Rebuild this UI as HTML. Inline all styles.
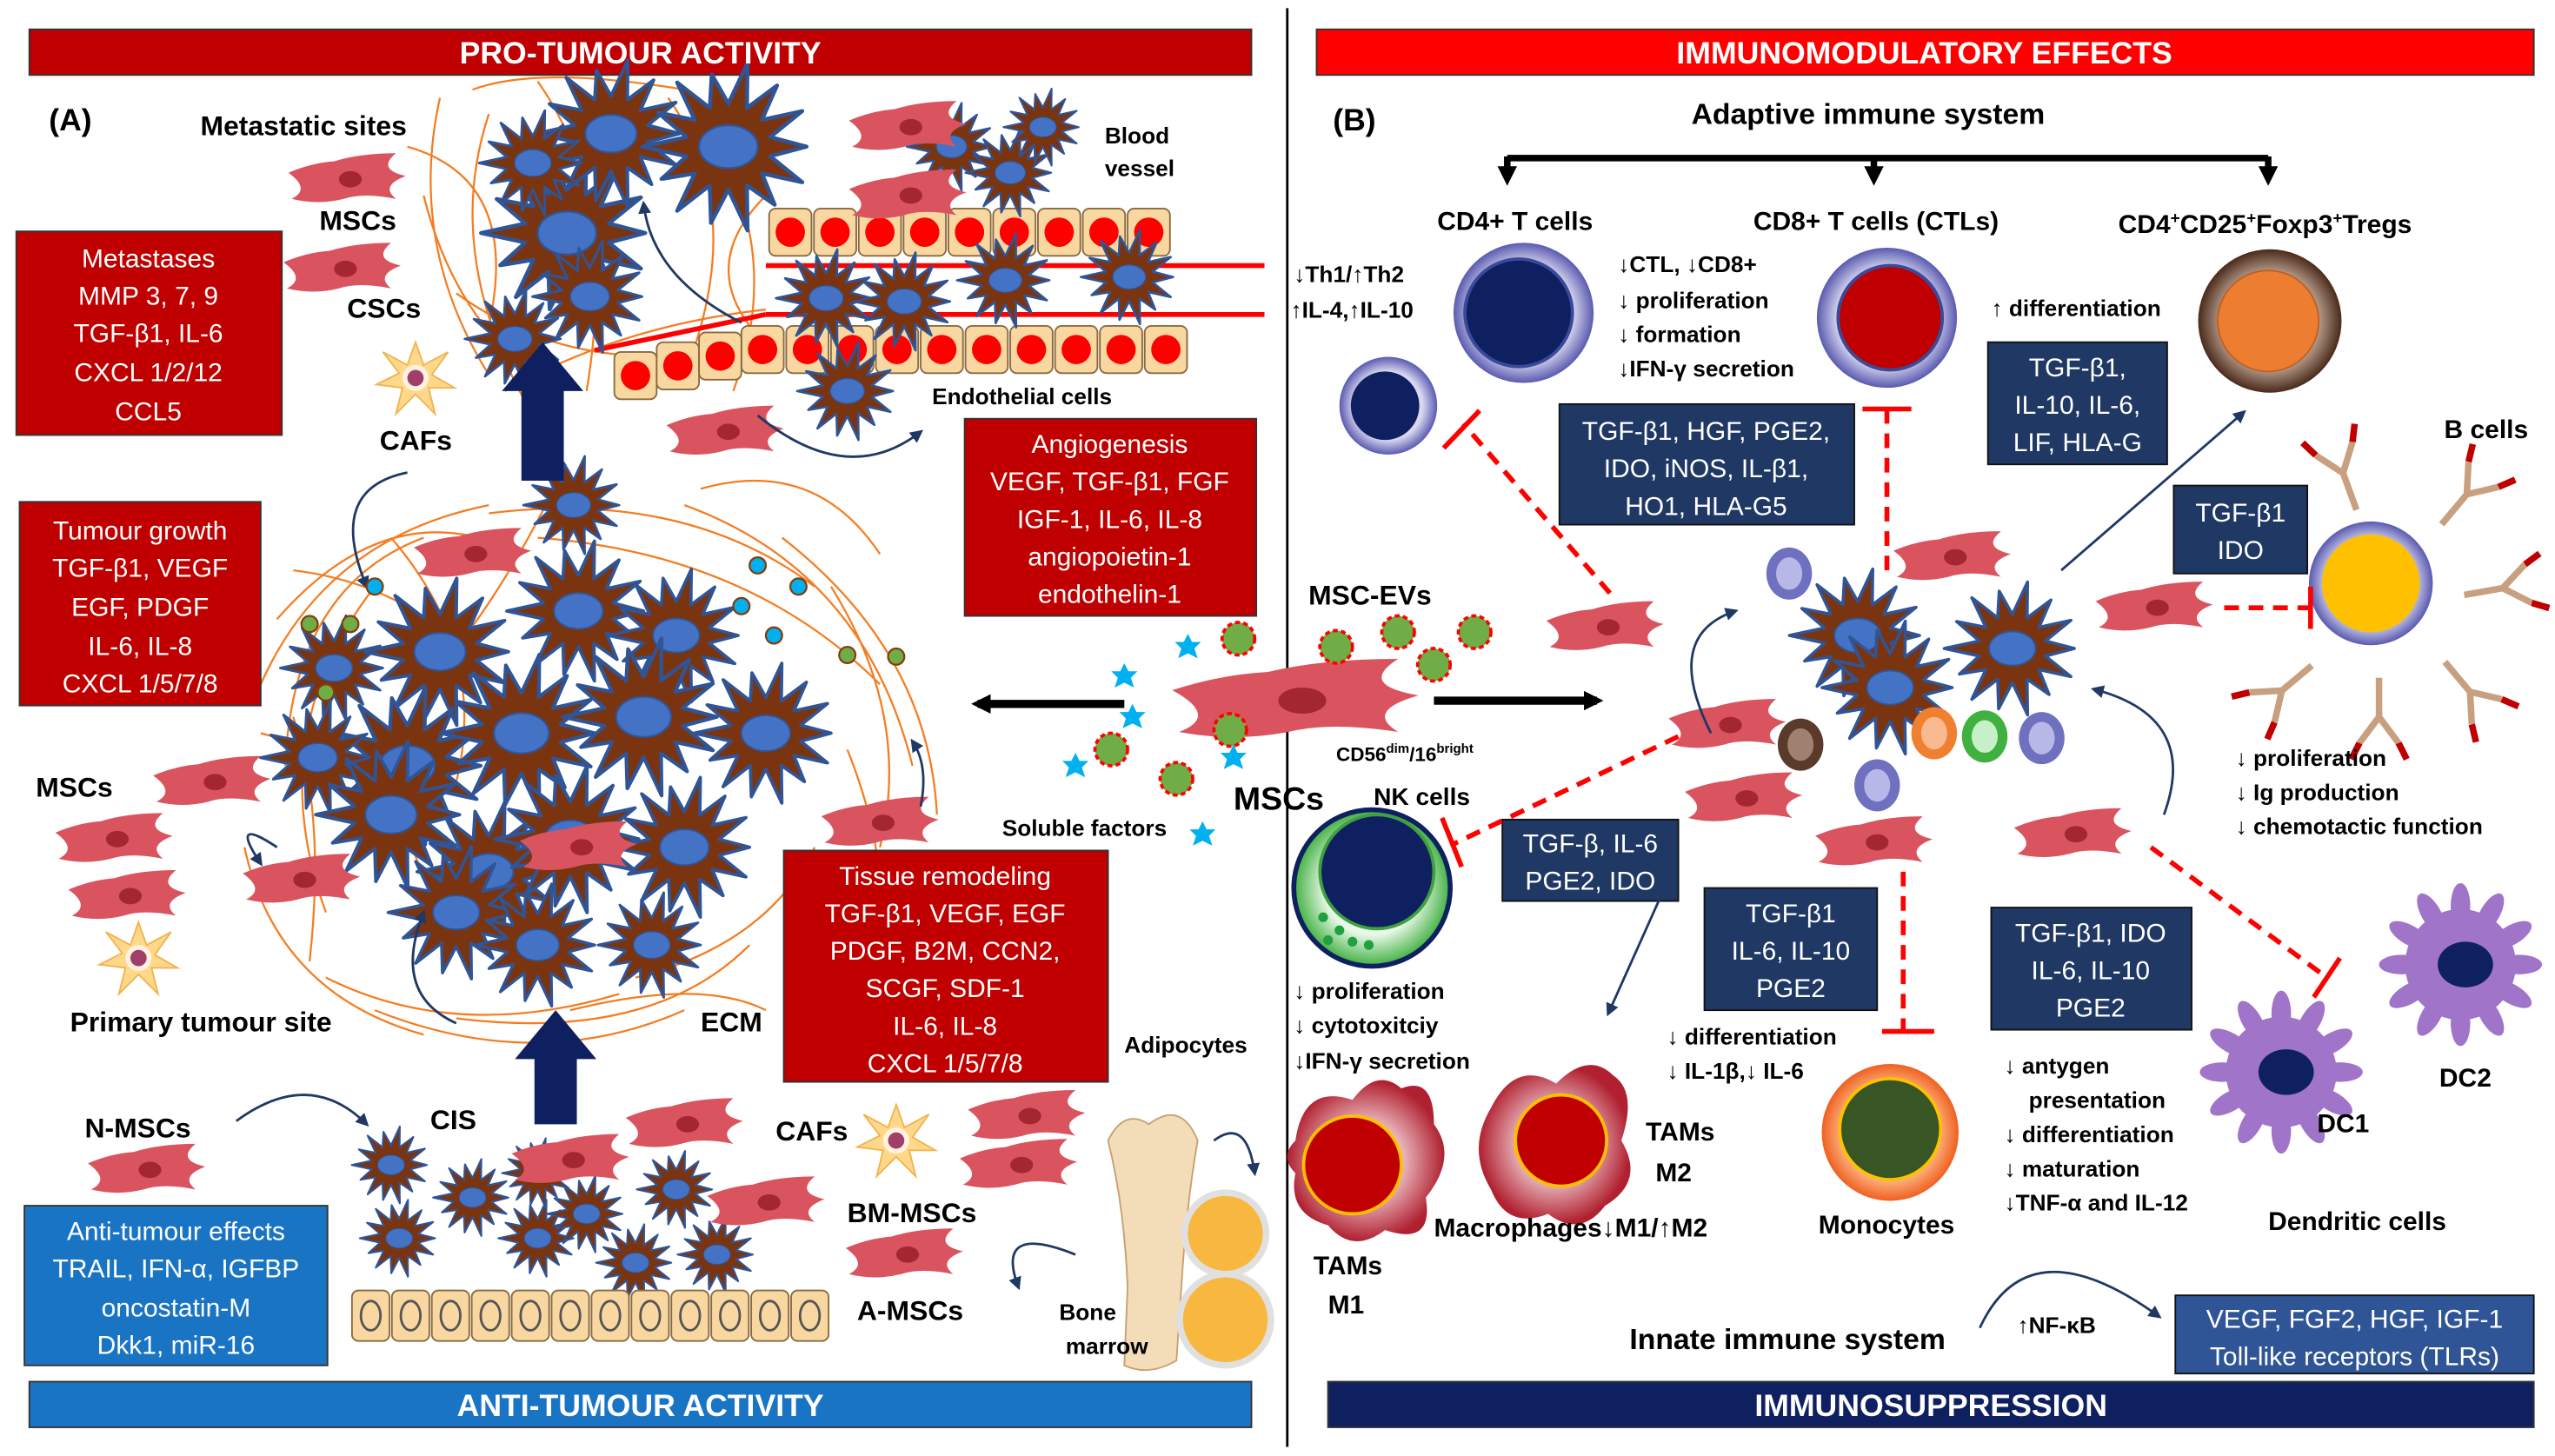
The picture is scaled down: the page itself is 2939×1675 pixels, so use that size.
<!DOCTYPE html>
<html><head><meta charset="utf-8">
<style>
html,body{margin:0;padding:0;background:#fff;}
svg{display:block}
text{font-family:"Liberation Sans Narrow","Liberation Sans",sans-serif;}
.b{font-weight:bold;fill:#000}
.w{fill:#fff}
</style></head><body>
<svg width="2939" height="1675" viewBox="0 0 1568 893.6" xmlns="http://www.w3.org/2000/svg" xmlns:xlink="http://www.w3.org/1999/xlink">
<defs>
<g id="msc"><path d="M-36,-4 Q-22,-10 -8,-11 Q8,-16 30,-16 Q18,-6 36,-2 Q20,4 30,12 Q10,8 -2,12 Q-18,16 -34,12 Q-22,6 -36,-4Z" fill="#d9545f"/><ellipse cx="2" cy="0" rx="7" ry="5" fill="#a32630"/></g>
<g id="caf"><path d="M0,-22 L5,-8 L20,-16 L10,-2 L24,6 L8,6 L12,22 L0,10 L-12,22 L-8,6 L-24,4 L-10,-3 L-20,-16 L-5,-8Z" fill="#ffd88a" stroke="#f0b450" stroke-width="1"/><circle r="8" fill="#fff2e0"/><circle r="5" fill="#a0406a"/></g>
<g id="tc"><polygon points="40,0 21.4,4.9 37.8,18.2 17.2,13.7 23.7,29.7 9.5,19.8 9.8,42.9 0,22 -8.9,39 -9.5,19.8 -26.2,32.8 -17.2,13.7 -34.2,16.5 -21.4,4.9 -44,0 -21.4,-4.9 -36,-17.4 -17.2,-13.7 -26.2,-32.8 -9.5,-19.8 -8.5,-37 0,-22 9.8,-42.9 9.5,-19.8 24.9,-31.3 17.2,-13.7 37.8,-18.2 21.4,-4.9" fill="#7b3410" stroke="#2f5597" stroke-width="2" stroke-linejoin="round"/><ellipse rx="15" ry="11" fill="#4472c4" stroke="#2f5597"/></g>
<g id="ec"><rect x="0" y="0" width="26" height="29" rx="4" fill="#f8d8a0" stroke="#8a6a40"/><circle cx="13" cy="14.5" r="9" fill="#f00"/></g>
<g id="blk"><rect x="0" y="0" width="23" height="31" rx="4" fill="#f8d8a0" stroke="#8a6a40"/><ellipse cx="11.5" cy="15.5" rx="6" ry="9" fill="none" stroke="#555" stroke-width="1.5"/></g>
<g id="ev"><circle r="10" fill="#70ad47" stroke="#f00" stroke-width="2" stroke-dasharray="3,2"/></g>
<g id="sf"><polygon points="0,-8 2.5,-3 8,-3 4,1 6,7 0,4 -6,7 -4,1 -8,-3 -2.5,-3" fill="#00b0f0"/></g>
<g id="ab" fill="none" stroke-width="4"><path d="M0,18 L0,-6 L-12,-22 M0,-6 L12,-22" stroke="#c8a080"/><path d="M-12,-22 L-17,-32 M12,-22 L17,-32" stroke="#c00000"/></g>
<g id="dc"><g fill="#a074c8"><ellipse cx="0" cy="-36" rx="6" ry="14"/><ellipse cx="0" cy="-36" rx="6" ry="14" transform="rotate(30)"/><ellipse cx="0" cy="-36" rx="6" ry="14" transform="rotate(60)"/><ellipse cx="0" cy="-36" rx="6" ry="14" transform="rotate(90)"/><ellipse cx="0" cy="-36" rx="6" ry="14" transform="rotate(120)"/><ellipse cx="0" cy="-36" rx="6" ry="14" transform="rotate(150)"/><ellipse cx="0" cy="-36" rx="6" ry="14" transform="rotate(180)"/><ellipse cx="0" cy="-36" rx="6" ry="14" transform="rotate(210)"/><ellipse cx="0" cy="-36" rx="6" ry="14" transform="rotate(240)"/><ellipse cx="0" cy="-36" rx="6" ry="14" transform="rotate(270)"/><ellipse cx="0" cy="-36" rx="6" ry="14" transform="rotate(300)"/><ellipse cx="0" cy="-36" rx="6" ry="14" transform="rotate(330)"/><circle r="34"/></g><ellipse cx="3" cy="0" rx="17" ry="14" fill="#0e2060"/></g>
<radialGradient id="lav"><stop offset="0.7" stop-color="#d8d8f0"/><stop offset="1" stop-color="#5a5ab0"/></radialGradient>
<radialGradient id="brn"><stop offset="0.6" stop-color="#d0b8a8"/><stop offset="1" stop-color="#4a2a1a"/></radialGradient>
<radialGradient id="mac"><stop offset="0.3" stop-color="#fbe8ea"/><stop offset="1" stop-color="#b02030"/></radialGradient>
<radialGradient id="mono"><stop offset="0.6" stop-color="#ffd0a0"/><stop offset="1" stop-color="#f06020"/></radialGradient>
<radialGradient id="nk"><stop offset="0.6" stop-color="#e8f8e8"/><stop offset="1" stop-color="#40b040"/></radialGradient>
<marker id="ah" markerWidth="8" markerHeight="8" refX="6" refY="4" orient="auto" markerUnits="userSpaceOnUse"><path d="M0,0 L8,4 L0,8Z" fill="#1f3864"/></marker>
<marker id="ahk" markerWidth="12" markerHeight="12" refX="8" refY="6" orient="auto" markerUnits="userSpaceOnUse"><path d="M0,0 L12,6 L0,12Z" fill="#000"/></marker>
</defs>

<g fill="none" stroke="#f57c20" stroke-width="1.2">
<path d="M270,60 Q250,150 300,230"/><path d="M290,55 Q330,40 420,55"/><path d="M260,120 Q280,200 340,240"/><path d="M300,70 Q270,160 330,260"/>
<path d="M410,60 Q460,130 420,230"/><path d="M440,90 Q480,160 450,240"/><path d="M280,180 Q350,230 440,215"/><path d="M310,240 Q380,200 470,190"/>
<path d="M250,90 Q320,110 300,200"/><path d="M330,50 Q380,120 360,240"/><path d="M460,200 Q430,160 470,120"/>
<path d="M160,420 Q200,330 300,310"/><path d="M175,470 Q180,360 260,330"/><path d="M200,560 Q160,450 230,360"/><path d="M150,520 Q170,610 260,635"/>
<path d="M300,315 Q420,300 500,360"/><path d="M330,330 Q460,340 540,420"/><path d="M420,310 Q530,350 560,470"/><path d="M480,330 Q570,400 575,500"/>
<path d="M510,360 Q560,440 540,520"/><path d="M200,600 Q280,640 380,610"/><path d="M230,620 Q330,660 420,620"/><path d="M280,625 Q400,640 460,580"/>
<path d="M390,600 Q470,580 500,520"/><path d="M170,380 Q240,300 320,340"/><path d="M190,590 Q200,500 180,440"/><path d="M340,300 Q300,380 260,420"/>
<path d="M430,300 Q500,280 540,340"/><path d="M160,450 Q240,470 260,540"/><path d="M350,620 Q430,600 470,620"/><path d="M520,460 Q560,560 520,620"/>
<path d="M180,350 Q260,360 300,420"/><path d="M240,330 Q300,400 280,480"/>
</g>

<line x1="790" y1="5" x2="790" y2="888" stroke="#000" stroke-width="1.5"/>
<rect x="18" y="18" width="750" height="28" fill="#c00000" stroke="#333"/>
<rect x="808" y="18" width="747" height="28" fill="#ff0000" stroke="#333"/>
<rect x="18" y="848" width="750" height="28" fill="#1a74c4" stroke="#333"/>
<text x="393" y="869" text-anchor="middle" class="w" font-size="19" font-weight="bold">ANTI-TUMOUR ACTIVITY</text>
<rect x="815" y="848" width="740" height="28" fill="#0e2060" stroke="#333"/>
<text x="1185" y="869" text-anchor="middle" class="w" font-size="19" font-weight="bold">IMMUNOSUPPRESSION</text>

<use href="#ec" x="472" y="128"/><use href="#ec" x="499.5" y="128"/><use href="#ec" x="527" y="128"/><use href="#ec" x="554.5" y="128"/><use href="#ec" x="582" y="128"/><use href="#ec" x="609.5" y="128"/><use href="#ec" x="637" y="128"/><use href="#ec" x="664.5" y="128"/><use href="#ec" x="692" y="128"/>
<use href="#ec" x="455" y="200"/><use href="#ec" x="482.5" y="200"/><use href="#ec" x="510" y="200"/><use href="#ec" x="537.5" y="200"/><use href="#ec" x="565" y="200"/><use href="#ec" x="592.5" y="200"/><use href="#ec" x="620" y="200"/><use href="#ec" x="647.5" y="200"/><use href="#ec" x="675" y="200"/><use href="#ec" x="702.5" y="200"/>
<use href="#ec" x="377" y="216"/><use href="#ec" x="403" y="210"/><use href="#ec" x="429" y="204"/>
<line x1="470" y1="163" x2="776" y2="163" stroke="#f00" stroke-width="3"/>
<line x1="470" y1="193" x2="776" y2="193" stroke="#f00" stroke-width="3"/>
<line x1="365" y1="215" x2="470" y2="193" stroke="#f00" stroke-width="3"/>

<use href="#tc" transform="translate(348,143) scale(1.2)"/><use href="#tc" transform="translate(375,82) scale(1.05)"/><use href="#tc" transform="translate(447,90) scale(1.2)"/>
<use href="#tc" transform="translate(327,100) scale(.75)"/><use href="#tc" transform="translate(316,208) scale(.7)"/><use href="#tc" transform="translate(362,182) scale(.8)"/>
<use href="#tc" transform="translate(507,183) scale(.7)"/><use href="#tc" transform="translate(555,185) scale(.7)"/><use href="#tc" transform="translate(584,90) scale(.625)"/>
<use href="#tc" transform="translate(620,106) scale(.625)"/><use href="#tc" transform="translate(640,78) scale(.55)"/><use href="#tc" transform="translate(617,172) scale(.675)"/>
<use href="#tc" transform="translate(693,170) scale(.675)"/><use href="#tc" transform="translate(520,240) scale(.7)"/><use href="#tc" transform="translate(352,310) scale(.7)"/>
<use href="#tc" transform="translate(205,410) scale(.75)"/><use href="#tc" transform="translate(270,400) scale(1.05)"/><use href="#tc" transform="translate(355,375) scale(1)"/>
<use href="#tc" transform="translate(415,390) scale(.95)"/><use href="#tc" transform="translate(250,470) scale(1.125)"/><use href="#tc" transform="translate(320,450) scale(1.125)"/>
<use href="#tc" transform="translate(395,440) scale(1.125)"/><use href="#tc" transform="translate(470,450) scale(1)"/><use href="#tc" transform="translate(195,465) scale(.8)"/>
<use href="#tc" transform="translate(300,535) scale(1)"/><use href="#tc" transform="translate(240,500) scale(1.05)"/><use href="#tc" transform="translate(420,520) scale(1)"/>
<use href="#tc" transform="translate(350,515) scale(1.05)"/><use href="#tc" transform="translate(280,560) scale(.95)"/><use href="#tc" transform="translate(400,580) scale(.75)"/>
<use href="#tc" transform="translate(330,580) scale(.875)"/>
<use href="#tc" transform="translate(240,715) scale(.55)"/><use href="#tc" transform="translate(290,735) scale(.55)"/><use href="#tc" transform="translate(245,760) scale(.55)"/>
<use href="#tc" transform="translate(330,760) scale(.55)"/><use href="#tc" transform="translate(360,745) scale(.55)"/><use href="#tc" transform="translate(415,730) scale(.55)"/>
<use href="#tc" transform="translate(440,770) scale(.55)"/><use href="#tc" transform="translate(390,775) scale(.55)"/><use href="#tc" transform="translate(330,720) scale(.5)"/>

<text x="393" y="39" text-anchor="middle" class="w" font-size="19" font-weight="bold">PRO-TUMOUR ACTIVITY</text>
<text x="1181" y="39" text-anchor="middle" class="w" font-size="19" font-weight="bold">IMMUNOMODULATORY EFFECTS</text>

<use href="#msc" x="213" y="110"/><use href="#msc" x="210" y="165"/>
<use href="#msc" x="557" y="78"/><use href="#msc" x="557" y="120"/>
<use href="#msc" x="445" y="265"/><use href="#msc" x="290" y="340"/>
<use href="#msc" x="70" y="515"/><use href="#msc" x="130" y="480"/><use href="#msc" x="78" y="550"/>
<use href="#msc" x="185" y="540"/><use href="#msc" x="355" y="520"/><use href="#msc" x="540" y="505"/>
<use href="#msc" x="90" y="718"/><use href="#msc" x="350" y="712"/><use href="#msc" x="420" y="690"/>
<use href="#msc" x="470" y="738"/><use href="#msc" x="555" y="770"/><use href="#msc" x="630" y="685"/><use href="#msc" x="625" y="715"/>
<use href="#caf" x="255" y="232"/><use href="#caf" x="85" y="588"/><use href="#caf" x="550" y="700"/>

<use href="#blk" x="216" y="792"/><use href="#blk" x="240.5" y="792"/><use href="#blk" x="265" y="792"/><use href="#blk" x="289.5" y="792"/><use href="#blk" x="314" y="792"/><use href="#blk" x="338.5" y="792"/><use href="#blk" x="363" y="792"/><use href="#blk" x="387.5" y="792"/><use href="#blk" x="412" y="792"/><use href="#blk" x="436.5" y="792"/><use href="#blk" x="461" y="792"/><use href="#blk" x="485.5" y="792"/>

<path d="M680,700 Q690,680 705,690 Q725,675 735,700 Q728,740 725,790 L722,835 Q705,845 690,838 L692,790 Q690,740 680,700Z" fill="#f3dcb8" stroke="#c8a070"/>
<circle cx="752" cy="757" r="25" fill="#f8b840" stroke="#e0e0e0" stroke-width="4"/>
<circle cx="752" cy="810" r="28" fill="#f8b840" stroke="#e0e0e0" stroke-width="4"/>

<path d="M320,295 L320,240 L308,240 L333,210 L358,240 L346,240 L346,295Z" fill="#0e2060"/>
<path d="M328,690 L328,650 L316,650 L341,620 L366,650 L354,650 L354,690Z" fill="#0e2060"/>

<g fill="none" stroke="#1f3864" stroke-width="1.5" marker-end="url(#ah)">
<path d="M455,198 Q400,170 395,125"/><path d="M465,255 Q520,300 565,265"/>
<path d="M250,290 Q200,300 225,360"/><path d="M170,520 Q140,500 160,530"/>
<path d="M280,628 Q240,610 260,560"/><path d="M145,688 Q190,655 225,690"/>
<path d="M660,770 Q610,750 625,790"/><path d="M745,700 Q765,685 770,720"/>
<path d="M565,495 Q570,470 560,455"/>
</g>

<g transform="translate(795,430) scale(2.1,1.6)"><use href="#msc"/></g>
<line x1="690" y1="432" x2="600" y2="432" stroke="#000" stroke-width="5" marker-end="url(#ahk)"/>
<line x1="880" y1="430" x2="980" y2="430" stroke="#000" stroke-width="5" marker-end="url(#ahk)"/>
<use href="#ev" x="760" y="392"/><use href="#ev" x="820" y="397"/><use href="#ev" x="858" y="388"/><use href="#ev" x="905" y="388"/><use href="#ev" x="880" y="408"/><use href="#ev" x="682" y="460"/><use href="#ev" x="722" y="478"/><use href="#ev" x="755" y="448"/>
<use href="#sf" x="690" y="415"/><use href="#sf" x="729" y="397"/><use href="#sf" x="695" y="440"/><use href="#sf" x="660" y="470"/><use href="#sf" x="738" y="512"/><use href="#sf" x="757" y="465"/>
<g stroke="#843c0c" stroke-width="1.2">
<circle cx="190" cy="383" r="5" fill="#70ad47"/><circle cx="215" cy="383" r="5" fill="#70ad47"/><circle cx="200" cy="425" r="5" fill="#70ad47"/><circle cx="230" cy="360" r="5" fill="#00b0f0"/>
<circle cx="465" cy="347" r="5" fill="#00b0f0"/><circle cx="475" cy="390" r="5" fill="#00b0f0"/><circle cx="490" cy="360" r="5" fill="#00b0f0"/><circle cx="520" cy="402" r="5" fill="#70ad47"/><circle cx="550" cy="403" r="5" fill="#70ad47"/><circle cx="455" cy="372" r="5" fill="#00b0f0"/>
</g>

<g font-size="16" text-anchor="middle">
<rect x="10" y="142" width="163" height="125" fill="#c00000" stroke="#333"/>
<text x="91" y="164" class="w">Metastases</text><text x="91" y="187" class="w">MMP 3, 7, 9</text><text x="91" y="210" class="w">TGF-β1, IL-6</text><text x="91" y="234" class="w">CXCL 1/2/12</text><text x="91" y="258" class="w">CCL5</text>
<rect x="12" y="308" width="148" height="125" fill="#c00000" stroke="#333"/>
<text x="86" y="331" class="w">Tumour growth</text><text x="86" y="354" class="w">TGF-β1, VEGF</text><text x="86" y="378" class="w">EGF, PDGF</text><text x="86" y="402" class="w">IL-6, IL-8</text><text x="86" y="425" class="w">CXCL 1/5/7/8</text>
<rect x="592" y="257" width="179" height="121" fill="#c00000" stroke="#333"/>
<text x="681" y="278" class="w">Angiogenesis</text><text x="681" y="301" class="w">VEGF, TGF-β1, FGF</text><text x="681" y="324" class="w">IGF-1, IL-6, IL-8</text><text x="681" y="347" class="w">angiopoietin-1</text><text x="681" y="370" class="w">endothelin-1</text>
<rect x="481" y="522" width="199" height="142" fill="#c00000" stroke="#333"/>
<text x="580" y="543" class="w">Tissue remodeling</text><text x="580" y="566" class="w">TGF-β1, VEGF, EGF</text><text x="580" y="589" class="w">PDGF, B2M, CCN2,</text><text x="580" y="612" class="w">SCGF, SDF-1</text><text x="580" y="635" class="w">IL-6, IL-8</text><text x="580" y="658" class="w">CXCL 1/5/7/8</text>
<rect x="15" y="740" width="186" height="98" fill="#1a74c4" stroke="#333"/>
<text x="108" y="761" class="w">Anti-tumour effects</text><text x="108" y="784" class="w">TRAIL, IFN-α, IGFBP</text><text x="108" y="808" class="w">oncostatin-M</text><text x="108" y="831" class="w">Dkk1, miR-16</text>
</g>

<text x="30" y="80" font-family="Liberation Serif" font-size="19" font-weight="bold">(A)</text>
<g font-size="17" class="b" font-weight="bold">
<text x="123" y="83">Metastatic sites</text>
<text x="196" y="141">MSCs</text><text x="213" y="195">CSCs</text><text x="233" y="276">CAFs</text>
<text x="22" y="489">MSCs</text>
<text x="43" y="633">Primary tumour site</text><text x="430" y="633">ECM</text>
<text x="52" y="698">N-MSCs</text><text x="264" y="693">CIS</text><text x="476" y="700">CAFs</text>
<text x="520" y="750">BM-MSCs</text><text x="526" y="810">A-MSCs</text>
<text x="803" y="371">MSC-EVs</text><text x="757" y="497" font-size="20">MSCs</text>
</g>
<g font-size="14" class="b" font-weight="bold">
<text x="678" y="88">Blood</text><text x="678" y="108">vessel</text>
<text x="572" y="248">Endothelial cells</text>
<text x="690" y="646">Adipocytes</text>
<text x="650" y="810">Bone</text><text x="654" y="831">marrow</text>
<text x="615" y="513">Soluble factors</text>
<text x="820" y="467" font-size="12">CD56<tspan font-size="8" dy="-5">dim</tspan><tspan dy="5">/16</tspan><tspan font-size="8" dy="-5">bright</tspan></text>
<text x="843" y="494" font-size="15">NK cells</text>
</g>

<!-- RIGHT PANEL -->
<text x="818" y="80" font-family="Liberation Serif" font-size="19" font-weight="bold">(B)</text>
<text x="1038" y="76" class="b" font-size="18" font-weight="bold">Adaptive immune system</text>
<path d="M925,97 L1392,97" stroke="#000" stroke-width="4"/>
<g stroke="#000" stroke-width="4" marker-end="url(#ahk)"><line x1="925" y1="96" x2="925" y2="110"/><line x1="1150" y1="96" x2="1150" y2="110"/><line x1="1392" y1="96" x2="1392" y2="110"/></g>

<!-- immune cells -->
<circle cx="935" cy="192" r="43" fill="url(#lav)"/><circle cx="932" cy="192" r="33" fill="#0e2060" stroke="#3a4a9a" stroke-width="2"/>
<circle cx="852" cy="249" r="30" fill="url(#lav)"/><circle cx="850" cy="249" r="21" fill="#0e2060"/>
<circle cx="1158" cy="195" r="43" fill="url(#lav)"/><circle cx="1160" cy="195" r="32" fill="#c00000" stroke="#3a4a9a" stroke-width="2"/>
<circle cx="1393" cy="197" r="44" fill="url(#brn)"/><circle cx="1392" cy="197" r="31" fill="#ed7d31" stroke="#c06020"/>
<use href="#ab" transform="translate(1440,296) rotate(-20)"/><use href="#ab" transform="translate(1510,308) rotate(40)"/><use href="#ab" transform="translate(1530,362) rotate(80)"/>
<use href="#ab" transform="translate(1512,420) rotate(140)"/><use href="#ab" transform="translate(1460,434) rotate(180)"/><use href="#ab" transform="translate(1405,420) rotate(-130)"/>
<circle cx="1455" cy="358" r="38" fill="url(#lav)"/><circle cx="1455" cy="358" r="30" fill="#ffc000"/>
<circle cx="842" cy="545" r="48" fill="url(#nk)" stroke="#0e2060" stroke-width="3"/><circle cx="845" cy="535" r="35" fill="#0e2060" stroke="#40a040" stroke-width="2"/>
<g fill="#20a040"><circle cx="812" cy="563" r="3"/><circle cx="822" cy="571" r="3"/><circle cx="830" cy="578" r="3"/><circle cx="840" cy="580" r="3"/><circle cx="815" cy="577" r="3"/></g>
<path d="M795,700 Q800,665 830,675 Q845,655 860,668 Q880,660 880,690 Q895,710 875,735 Q880,765 850,755 Q830,770 815,752 Q790,745 795,720 Q785,710 795,700Z" fill="url(#mac)"/>
<circle cx="830" cy="715" r="30" fill="#c00000" stroke="#ffc000" stroke-width="2"/>
<path d="M915,680 Q930,650 955,665 Q975,645 990,660 Q1005,670 995,700 Q1010,725 985,740 Q970,760 950,745 Q925,755 915,730 Q900,705 915,680Z" fill="url(#mac)"/>
<circle cx="958" cy="700" r="28" fill="#c00000" stroke="#ffc000" stroke-width="2"/>
<circle cx="1160" cy="695" r="42" fill="url(#mono)"/><circle cx="1160" cy="693" r="31" fill="#375623" stroke="#ffc000" stroke-width="2"/>
<use href="#dc" x="1510" y="592"/><use href="#dc" x="1400" y="658"/>

<use href="#tc" transform="translate(1140,390) scale(.95)"/><use href="#tc" transform="translate(1235,398) scale(.95)"/><use href="#tc" transform="translate(1160,422) scale(.95)"/>
<g>
<ellipse cx="1098" cy="352" rx="14" ry="16" fill="#7070c0"/><ellipse cx="1098" cy="352" rx="8" ry="10" fill="#b8b8e8"/>
<ellipse cx="1105" cy="457" rx="14" ry="16" fill="#5a3a2a"/><ellipse cx="1105" cy="457" rx="8" ry="10" fill="#a08070"/>
<ellipse cx="1187" cy="450" rx="14" ry="16" fill="#f08030"/><ellipse cx="1187" cy="450" rx="8" ry="10" fill="#f8b890"/>
<ellipse cx="1218" cy="452" rx="14" ry="16" fill="#40b040"/><ellipse cx="1218" cy="452" rx="8" ry="10" fill="#c8f0c8"/>
<ellipse cx="1253" cy="453" rx="14" ry="16" fill="#7070c0"/><ellipse cx="1253" cy="453" rx="8" ry="10" fill="#b8b8e8"/>
<ellipse cx="1152" cy="482" rx="14" ry="16" fill="#7070c0"/><ellipse cx="1152" cy="482" rx="8" ry="10" fill="#b8b8e8"/>
</g>

<use href="#msc" x="985" y="385"/><use href="#msc" x="1060" y="445"/><use href="#msc" x="1070" y="490"/>
<use href="#msc" x="1150" y="517"/><use href="#msc" x="1198" y="342"/><use href="#msc" x="1322" y="373"/><use href="#msc" x="1272" y="512"/>

<g font-size="16" class="b" font-weight="bold">
<text x="882" y="141">CD4+ T cells</text><text x="1076" y="141">CD8+ T cells (CTLs)</text>
<text x="1300" y="143">CD4<tspan font-size="10" dy="-6">+</tspan><tspan dy="6">CD25</tspan><tspan font-size="10" dy="-6">+</tspan><tspan dy="6">Foxp3</tspan><tspan font-size="10" dy="-6">+</tspan><tspan dy="6">Tregs</tspan></text>
<text x="1500" y="269">B cells</text>
<text x="1392" y="755">Dendritic cells</text><text x="1422" y="695">DC1</text><text x="1497" y="667">DC2</text>
<text x="1010" y="700">TAMs</text><text x="1016" y="725">M2</text>
<text x="806" y="782">TAMs</text><text x="815" y="806">M1</text>
<text x="880" y="759">Macrophages↓M1/↑M2</text><text x="1116" y="757">Monocytes</text>
<text x="1000" y="828" font-size="18">Innate immune system</text>
<text x="1238" y="818" font-size="14">↑NF-κB</text>
</g>
<g font-size="14" class="b" font-weight="bold">
<text x="794" y="173">↓Th1/↑Th2</text><text x="792" y="195">↑IL-4,↑IL-10</text>
<text x="993" y="167">↓CTL, ↓CD8+</text><text x="993" y="189">↓ proliferation</text><text x="993" y="210">↓ formation</text><text x="993" y="231">↓IFN-γ secretion</text>
<text x="1222" y="194">↑ differentiation</text>
<text x="1372" y="470">↓ proliferation</text><text x="1372" y="491">↓ Ig production</text><text x="1372" y="512">↓ chemotactic function</text>
<text x="794" y="613">↓ proliferation</text><text x="794" y="634">↓ cytotoxitciy</text><text x="794" y="656">↓IFN-γ secretion</text>
<text x="1023" y="641">↓ differentiation</text><text x="1023" y="662">↓ IL-1β,↓ IL-6</text>
<text x="1230" y="659">↓ antygen</text><text x="1245" y="680">presentation</text><text x="1230" y="701">↓ differentiation</text><text x="1230" y="722">↓ maturation</text><text x="1230" y="743">↓TNF-α and IL-12</text>
</g>

<g font-size="16" text-anchor="middle">
<rect x="957" y="248" width="181" height="74" fill="#1f3864" stroke="#111"/>
<text x="1047" y="270" class="w">TGF-β1, HGF, PGE2,</text><text x="1047" y="293" class="w">IDO, iNOS, IL-β1,</text><text x="1047" y="316" class="w">HO1, HLA-G5</text>
<rect x="1220" y="210" width="110" height="75" fill="#1f3864" stroke="#111"/>
<text x="1275" y="231" class="w">TGF-β1,</text><text x="1275" y="254" class="w">IL-10, IL-6,</text><text x="1275" y="277" class="w">LIF, HLA-G</text>
<rect x="1334" y="298" width="82" height="54" fill="#1f3864" stroke="#111"/>
<text x="1375" y="320" class="w">TGF-β1</text><text x="1375" y="343" class="w">IDO</text>
<rect x="922" y="503" width="108" height="50" fill="#1f3864" stroke="#111"/>
<text x="976" y="523" class="w">TGF-β, IL-6</text><text x="976" y="546" class="w">PGE2, IDO</text>
<rect x="1046" y="545" width="106" height="75" fill="#1f3864" stroke="#111"/>
<text x="1099" y="566" class="w">TGF-β1</text><text x="1099" y="589" class="w">IL-6, IL-10</text><text x="1099" y="612" class="w">PGE2</text>
<rect x="1222" y="557" width="123" height="75" fill="#1f3864" stroke="#111"/>
<text x="1283" y="578" class="w">TGF-β1, IDO</text><text x="1283" y="601" class="w">IL-6, IL-10</text><text x="1283" y="624" class="w">PGE2</text>
<rect x="1335" y="795" width="220" height="48" fill="#2f5597" stroke="#111"/>
<text x="1445" y="815" class="w">VEGF, FGF2, HGF, IGF-1</text><text x="1445" y="838" class="w">Toll-like receptors (TLRs)</text>
</g>

<g stroke="#f00" stroke-width="3" fill="none">
<line x1="988" y1="364" x2="898" y2="260" stroke-dasharray="9,6"/><line x1="886" y1="275" x2="908" y2="252"/>
<line x1="1158" y1="350" x2="1158" y2="252" stroke-dasharray="9,6"/><line x1="1143" y1="251" x2="1173" y2="251"/>
<line x1="1030" y1="452" x2="892" y2="518" stroke-dasharray="9,6"/><line x1="885" y1="502" x2="897" y2="532"/>
<line x1="1168" y1="535" x2="1168" y2="632" stroke-dasharray="9,6"/><line x1="1155" y1="633" x2="1187" y2="633"/>
<line x1="1320" y1="520" x2="1428" y2="600" stroke-dasharray="9,6"/><line x1="1420" y1="612" x2="1436" y2="588"/>
<line x1="1365" y1="373" x2="1418" y2="373" stroke-dasharray="9,6"/><line x1="1418" y1="360" x2="1418" y2="386"/>
</g>
<g fill="none" stroke="#1f3864" stroke-width="1.5" marker-end="url(#ah)">
<line x1="1265" y1="350" x2="1377" y2="253"/><line x1="1026" y1="535" x2="987" y2="622"/>
<path d="M1050,450 Q1020,390 1065,375"/><path d="M1328,500 Q1350,440 1285,423"/>
<path d="M1215,815 Q1245,750 1325,808"/>
</g>
</svg>
</body></html>
